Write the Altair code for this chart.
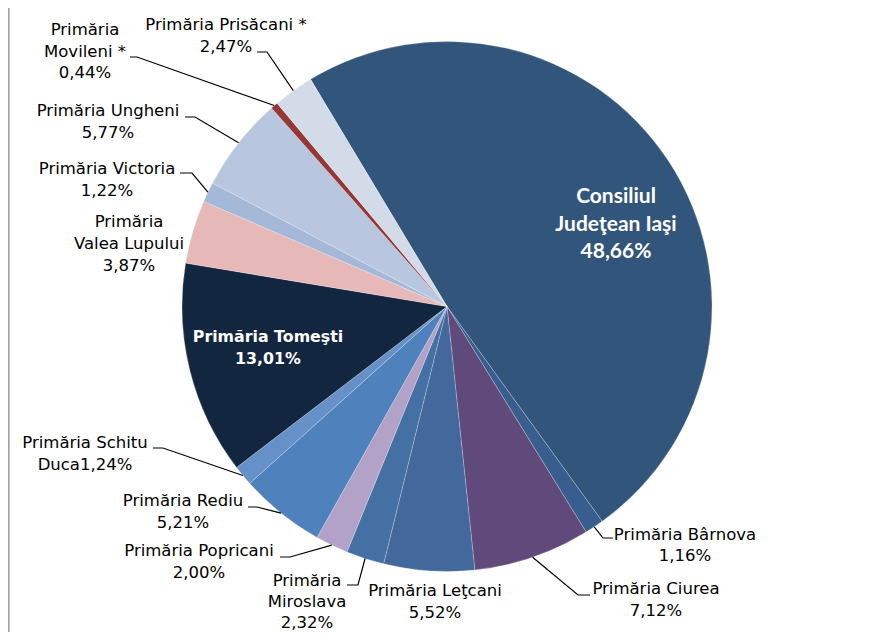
import math
import altair as alt
import pandas as pd

# ---------------- data ----------------
names = [
    "Consiliul Judeţean Iaşi", "Primăria Bârnova", "Primăria Ciurea",
    "Primăria Leţcani", "Primăria Miroslava", "Primăria Popricani",
    "Primăria Rediu", "Primăria Schitu Duca", "Primăria Tomeşti",
    "Primăria Valea Lupului", "Primăria Victoria", "Primăria Ungheni",
    "Primăria Movileni *", "Primăria Prisăcani *",
]
values = [48.66, 1.16, 7.12, 5.52, 2.32, 2.00, 5.21, 1.24, 13.01, 3.87, 1.22, 5.77, 0.44, 2.47]
label_lines = [
    ["Consiliul", "Judeţean Iaşi", "{p}"],
    ["Primăria Bârnova", "{p}"],
    ["Primăria Ciurea", "{p}"],
    ["Primăria Leţcani", "{p}"],
    ["Primăria", "Miroslava", "{p}"],
    ["Primăria Popricani", "{p}"],
    ["Primăria Rediu", "{p}"],
    ["Primăria Schitu", "Duca{p}"],
    ["Primăria Tomeşti", "{p}"],
    ["Primăria", "Valea Lupului", "{p}"],
    ["Primăria Victoria", "{p}"],
    ["Primăria Ungheni", "{p}"],
    ["Primăria", "Movileni *", "{p}"],
    ["Primăria Prisăcani *", "{p}"],
]

# ---------------- style / layout ----------------
colors = [
    "#32557C", "#375E8C", "#604A7B", "#42689C", "#4470A3", "#B3A2C7", "#4F81BD",
    "#6690C8", "#13263F", "#E6B9B8", "#A5B8D8", "#B8C6DF", "#953735", "#D3DAE8",
]
M = 8  # page margin
CX, CY, R = 447 - M, 306.5 - M, 265
START = math.radians(-31)

# label layout: (center x, first line y, line gap, style, leader elbow, leader end) in page px
layout = {
    0: (616, 197, 27.5, "big", None, None),
    1: (685, 535, 20.5, "out", (603, 538), (613, 538)),
    2: (656, 589, 21.5, "out", (578, 595), (590, 595)),
    3: (435, 591, 21.5, "out", None, None),
    4: (307, 581, 21, "out", (358, 585), (347, 585)),
    5: (199, 551, 21.5, "out", (290, 557), (280, 557)),
    6: (183, 501, 21.5, "out", (257, 507), (248, 507)),
    7: (85, 443, 21.5, "out", (163, 448), (153, 448)),
    8: (268, 337, 21.5, "in", None, None),
    9: (129, 222, 22, "out", None, None),
    10: (107, 169, 22, "out", (192, 173), (180, 173)),
    11: (108, 111, 22, "out", (195, 117), (185, 117)),
    12: (85, 30, 21.5, "out", (137, 57), (130, 57)),
    13: (226, 25, 21.5, "out", (267, 52), (257, 52)),
}

total = sum(values)
pie_df = pd.DataFrame({"name": names, "value": values, "idx": list(range(len(names)))})

text_rows, line_rows = [], []
cum = 0.0
for i, (n, v) in enumerate(zip(names, values)):
    mid = START + 2 * math.pi * (cum + v / 2) / total
    cum += v
    pct = f"{v:.2f}".replace(".", ",") + "%"
    x0, y0, gap, style, elbow, end = layout[i]
    for k, ln in enumerate(label_lines[i]):
        text_rows.append({"t": ln.replace("{p}", pct), "x": x0 - M, "y": y0 + k * gap - M, "style": style})
    if elbow is not None:
        ex, ey = CX + R * math.sin(mid), CY - R * math.cos(mid)
        pts = [(ex, ey), (elbow[0] - M, elbow[1] - M), (end[0] - M, end[1] - M)]
        for k, (px, py) in enumerate(pts):
            line_rows.append({"lab": n, "k": k, "x": px, "y": py})

text_df = pd.DataFrame(text_rows)
line_df = pd.DataFrame(line_rows)

pie = alt.Chart(pie_df).mark_arc(radius=R, stroke="white", strokeWidth=0.4, strokeOpacity=0.6).encode(
    theta=alt.Theta("value:Q", stack=True, scale=alt.Scale(range=[2 * math.pi + START, 4 * math.pi + START])),
    color=alt.Color("name:N", scale=alt.Scale(domain=names, range=colors), legend=None),
    order=alt.Order("idx:Q", sort="ascending"),
    x=alt.value(CX),
    y=alt.value(CY),
)

XS = alt.X("x:Q", scale=None, axis=None)
YS = alt.Y("y:Q", scale=None, axis=None)

leaders = alt.Chart(line_df).mark_line(color="black", strokeWidth=1.2).encode(
    x=XS, y=YS, detail="lab:N", order="k:Q"
)

txt_out = alt.Chart(text_df[text_df["style"] == "out"]).mark_text(
    font="DejaVu Sans", fontSize=16.5, color="#000000", align="center", baseline="middle"
).encode(x=XS, y=YS, text="t:N")

txt_in = alt.Chart(text_df[text_df["style"] == "in"]).mark_text(
    font="DejaVu Sans", fontSize=15.8, fontWeight="bold", color="white", align="center", baseline="middle"
).encode(x=XS, y=YS, text="t:N")

txt_big = alt.Chart(text_df[text_df["style"] == "big"]).mark_text(
    font="Lato", fontSize=21, fontWeight="bold", color="white", align="center", baseline="middle"
).encode(x=XS, y=YS, text="t:N")

border = alt.Chart(pd.DataFrame({"x": [0.8]})).mark_rule(color="#A0A0A0", strokeWidth=1.6).encode(
    x=XS, y=alt.value(0), y2=alt.value(640)
)

chart = alt.layer(border, pie, leaders, txt_out, txt_in, txt_big).properties(
    width=861, height=624, padding=0, autosize=alt.AutoSizeParams(type="none")
).configure_view(stroke=None)

chart.save("out.html", embed_options={"renderer": "svg", "actions": False})
